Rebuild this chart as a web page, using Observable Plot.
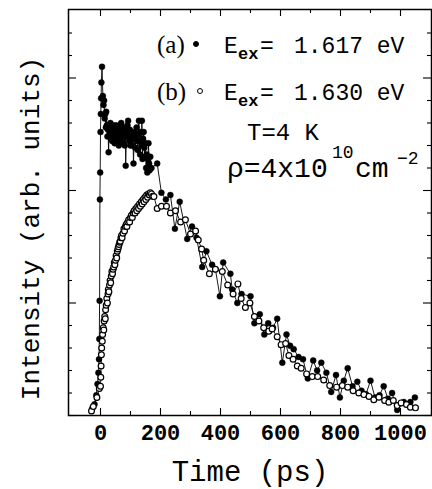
<!DOCTYPE html>
<html><head><meta charset="utf-8">
<script src="https://cdn.jsdelivr.net/npm/d3@7"></script>
<script src="https://cdn.jsdelivr.net/npm/@observablehq/plot@0.6"></script>
<style>body{margin:0;background:#fff}</style>
</head><body><div id="chart"></div>
<script>
// Series (a): E_ex = 1.617 eV (filled circles)
const aTime = [-28,-20,-14,-10,-7,-5,-4,-3,-2,-1,0,1,2,3,5,
  8,10,12,14,16,18,19,21,23,25,27,29,31,33,35,37,39,41,43,45,47,49,51,53,55,57,59,61,63,65,67,69,71,73,75,77,79,81,83,84,86,88,90,92,94,96,98,100,102,104,106,108,110,112,114,116,118,120,122,124,126,128,130,132,134,136,138,140,142,144,146,148,150,152,154,156,158,160,162,164,166,170,
  189,203,218,233,248,264,289,305,320,339,353,372,383,398,409,433,439,456,470,500,513,531,546,559,575,589,606,620,632,644,660,675,691,709,722,736,753,769,785,798,811,824,840,856,870,885,900,915,930,944,958,972,989,1011,1033,1048];
const aIntensity = [0.3,0.5,0.9,1.4,1.9,2.5,3.4,5.1,9.6,10.8,12.6,13.4,14.1,14.8,15.5,
  14.2,13.8,14.0,13.2,13.4,12.8,13.5,12.9,12.4,12.7,11.7,12.9,12.5,13.0,12.3,12.7,12.2,12.9,12.4,12.8,12.1,12.6,12.9,12.3,12.7,12.2,12.8,12.0,12.5,12.9,12.3,13.0,12.4,12.6,12.1,12.8,12.4,12.0,12.6,11.1,12.4,12.8,12.9,13.1,12.5,12.2,12.7,12.0,12.6,12.3,12.0,12.5,11.2,12.3,12.6,11.9,12.4,12.8,12.2,11.8,12.5,13.1,12.2,11.6,12.6,12.0,13.1,11.4,12.3,12.6,11.9,11.5,12.1,11.0,11.6,10.8,11.4,12.1,11.2,10.9,11.5,11.0,
  11.2,9.9,9.6,9.8,8.3,9.5,7.85,8.4,7.9,6.6,7.3,6.7,6.5,5.3,6.8,6.3,5.6,5.0,5.4,5.3,4.1,4.5,3.6,4.1,3.9,4.3,2.35,3.6,3.1,2.95,2.6,2.5,1.65,2.45,2.0,2.35,1.9,1.05,1.8,0.8,1.55,2.1,1.3,1.5,1.1,0.95,1.55,0.8,0.9,1.3,0.75,1.0,0.25,0.6,0.6,0.8];
// Series (b): E_ex = 1.630 eV (open circles)
const bTime = [-30,-24,-12,-4,
  0,1,2,3,4,6,7,9,11,12,14,16,17,19,21,23,25,26,28,30,32,34,36,38,40,42,44,46,48,50,52,54,56,58,60,62,64,66,68,70,72,75,78,80,83,86,88,91,94,97,100,103,106,109,112,115,118,121,124,127,130,133,136,139,142,145,148,151,154,157,160,163,166,170,174,178,
  189,203,220,233,250,267,283,300,317,326,337,344,363,383,406,424,442,458,469,483,498,513,528,544,561,572,589,602,617,628,642,656,669,687,706,724,744,764,787,806,824,842,861,878,895,911,928,947,961,976,989,1002,1020,1033,1050];
const bIntensity = [0.2,0.4,0.8,1.2,
  1.3,1.7,2.2,2.7,3.0,3.3,3.6,3.9,3.8,4.2,4.4,4.3,4.7,4.9,5.2,5.0,5.4,5.6,5.5,5.8,6.0,5.9,6.2,6.4,6.3,6.5,6.6,6.8,6.7,6.9,7.1,7.0,7.3,7.4,7.5,7.6,7.7,7.75,7.9,8.0,7.9,8.1,8.3,8.2,8.4,8.5,8.4,8.6,8.7,8.6,8.8,8.9,8.8,9.0,9.1,9.0,9.2,9.1,9.3,9.2,9.4,9.3,9.5,9.4,9.6,9.5,9.7,9.6,9.8,9.7,9.85,9.8,9.9,9.85,9.75,9.73,
  9.2,9.3,9.3,9.0,9.1,8.6,8.7,8.07,8.2,7.8,7.4,6.9,6.3,6.5,6.4,5.8,5.4,5.85,5.2,4.8,5.0,4.4,4.2,3.9,3.75,3.85,3.5,3.15,3.2,2.67,2.5,2.2,2.1,1.85,1.73,1.73,1.58,1.33,1.26,1.33,1.26,1.1,1.0,0.93,0.85,0.7,0.81,0.67,0.59,0.67,0.44,0.56,0.49,0.37,0.34];

const xMajorTicks = [0,200,400,600,800,1000];
const xMinorTicks = [100,300,500,700,900];
const yMajorTicks = [0,5,10,15];
const yMinorTicks = [1,2,3,4,6,7,8,9,11,12,13,14,16,17];
const xLabel = "Time (ps)";
const yLabel = "Intensity (arb. units)";
const legendA = {tag:"(a)", value:"1.617 eV"};
const legendB = {tag:"(b)", value:"1.630 eV"};
const tempText = "T=4 K";

const a = aTime.map((t,i)=>({t, v:aIntensity[i]}));
const b = bTime.map((t,i)=>({t, v:bIntensity[i]}));

const W = 432, H = 489, mL = 68, mR = 1, mT = 9, mB = 74;
const X0 = (mL-100)/0.3, X1 = (W-mR-100)/0.3;
const Y0 = 0, Y1 = (H-mB-mT)/22.5;
const ux = (X1-X0)/(W-mL-mR), uy = (Y1-Y0)/(H-mT-mB);
const mono = "Liberation Mono, Courier New, monospace";

const plot = Plot.plot({
  width: W, height: H,
  marginLeft: mL, marginRight: mR, marginTop: mT, marginBottom: mB,
  x: {domain: [X0, X1]},
  y: {domain: [Y0, Y1], axis: null},
  style: {background: "white"},
  marks: [
    Plot.frame({stroke: "black", strokeWidth: 1.5}),
    Plot.ruleX(xMajorTicks, {x: d=>d, y1: Y0, y2: Y0 + 7*uy, stroke: "black", strokeWidth: 1.1}),
    Plot.ruleX(xMinorTicks, {x: d=>d, y1: Y0, y2: Y0 + 4*uy, stroke: "black", strokeWidth: 1.1}),
    Plot.ruleX(xMajorTicks, {x: d=>d, y1: Y1, y2: Y1 - 7*uy, stroke: "black", strokeWidth: 1.1}),
    Plot.ruleX(xMinorTicks, {x: d=>d, y1: Y1, y2: Y1 - 4*uy, stroke: "black", strokeWidth: 1.1}),
    Plot.ruleY(yMajorTicks, {y: d=>d, x1: X0, x2: X0 + 8*ux, stroke: "black", strokeWidth: 1.1}),
    Plot.ruleY(yMinorTicks, {y: d=>d, x1: X0, x2: X0 + 4*ux, stroke: "black", strokeWidth: 1.1}),
    Plot.ruleY(yMajorTicks, {y: d=>d, x1: X1, x2: X1 - 8*ux, stroke: "black", strokeWidth: 1.1}),
    Plot.ruleY(yMinorTicks, {y: d=>d, x1: X1, x2: X1 - 4*ux, stroke: "black", strokeWidth: 1.1}),
    Plot.axisX(xMajorTicks, {tickSize: 0, tickPadding: 9, label: null, tickFormat: d => String(d), fontSize: 22, fontWeight: "bold", fontFamily: mono, fill: "black"}),
    Plot.text([xLabel], {frameAnchor: "bottom", dy: 65, lineAnchor: "bottom", textAnchor: "middle", fontSize: 29, fontFamily: mono, fill: "black"}),
    Plot.text([yLabel], {frameAnchor: "left", dx: -30, dy: 16, rotate: -90, lineAnchor: "bottom", textAnchor: "middle", fontSize: 26, fontFamily: mono, fill: "black"}),
    Plot.line(a, {x: "t", y: "v", stroke: "black", strokeWidth: 0.9}),
    Plot.line(b, {x: "t", y: "v", stroke: "black", strokeWidth: 0.9}),
    Plot.dot(a, {x: "t", y: "v", r: 3, fill: "black", stroke: "black", strokeWidth: 0.4}),
    Plot.dot(b, {x: "t", y: "v", r: 2.9, fill: "white", stroke: "black", strokeWidth: 1.2})
  ]
});
document.getElementById("chart").appendChild(plot);

// Annotation texts positioned through the plot's scales
const sx = plot.scale("x"), sy = plot.scale("y");
const svg = d3.select(plot);
const g = svg.append("g").attr("fill", "black").attr("text-anchor", "start");
function legendLine(entry, tAnchor, iAnchor, filled) {
  const x0 = sx.apply(tAnchor), y0 = sy.apply(iAnchor);
  g.append("text").attr("x", x0).attr("y", y0).attr("font-family", "Liberation Serif, serif").attr("font-size", 25).text(entry.tag);
  g.append("circle").attr("cx", x0 + (filled ? 39 : 43)).attr("cy", y0 - 9).attr("r", 2.5)
    .attr("fill", filled ? "black" : "white").attr("stroke", "black").attr("stroke-width", 1);
  g.append("text").attr("x", x0 + 67).attr("y", y0).attr("font-family", mono).attr("font-size", 23).text("E");
  g.append("text").attr("x", x0 + 81).attr("y", y0 + 6).attr("font-family", mono).attr("font-weight", "bold").attr("font-size", 17).text("ex");
  g.append("text").attr("x", x0 + 103).attr("y", y0).attr("font-family", mono).attr("font-size", 23).text("=");
  g.append("text").attr("x", x0 + 137).attr("y", y0).attr("font-family", mono).attr("font-size", 23).text(entry.value);
}
legendLine(legendA, 190, 16.09, true);
legendLine(legendB, 190, 14.0, false);
g.append("text").attr("x", sx.apply(490)).attr("y", sy.apply(12.22)).attr("font-family", mono).attr("font-size", 24).text(tempText);
{
  const x0 = sx.apply(423), y0 = sy.apply(10.58);
  g.append("text").attr("x", x0).attr("y", y0).attr("font-family", mono).attr("font-size", 28).text("ρ=4x10");
  g.append("text").attr("x", x0 + 105).attr("y", y0 - 19).attr("font-family", mono).attr("font-size", 18).text("10");
  g.append("text").attr("x", x0 + 128).attr("y", y0).attr("font-family", mono).attr("font-size", 28).text("cm");
  g.append("text").attr("x", x0 + 170).attr("y", y0 - 13).attr("font-family", mono).attr("font-size", 18).text("−2");
}
</script>
</body></html>
